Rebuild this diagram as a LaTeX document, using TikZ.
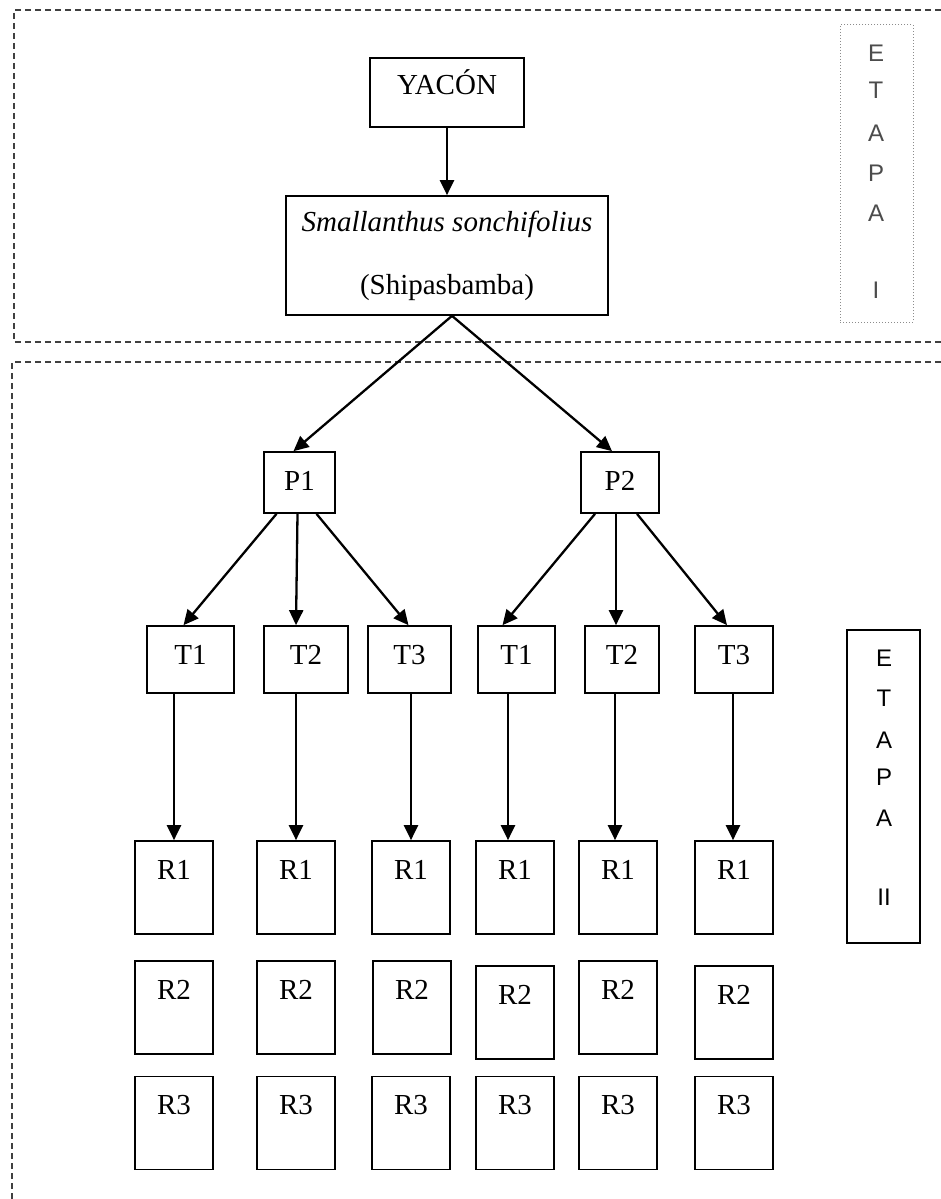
\documentclass[tikz,border=0pt]{standalone}
\usepackage{fontspec}
\setmainfont{Liberation Serif}
\newfontfamily\etapafont{Liberation Sans}
\usetikzlibrary{arrows.meta,calc}
\begin{document}
\begin{tikzpicture}[x=1pt,y=-1pt,
  box/.style={draw, line width=1.7pt, inner sep=0pt, font=\fontsize{29}{34}\selectfont},
  rbox/.style={box, minimum width=78pt, text height=38pt, text depth=55pt},
  tbox/.style={box, text height=38pt, text depth=29pt},
  pbox/.style={box, text height=38pt, text depth=23pt},
  arr/.style={line width=2.3pt, -{Triangle[length=15pt,width=14pt]}},
  region/.style={line width=1.2pt, draw=black!75, dash pattern=on 6pt off 4pt},
  etapabox/.style={draw, inner sep=0pt, minimum width=73pt},
  letter/.style={font=\etapafont\fontsize{24}{28}\selectfont, inner sep=0pt}]
\useasboundingbox (0,0) rectangle (941,1199);
\fill[white] (0,0) rectangle (941,1199);

% regions
\draw[region] (941,10) -- (14,10) -- (14,342) -- (941,342);
\draw[region] (941,362) -- (12,362) -- (12,1199);

% ETAPA I
\node[etapabox, draw=black!45, dotted, line width=1pt, minimum height=297pt] (etapaI) at (876.5,173.5) {};
\foreach \l/\y [count=\i] in {E/53,T/90,A/133,P/173,A/213,I/290}
  \node[letter, text=black!70] (eI\i) at (876,\y) {\l};

% ETAPA II
\node[etapabox, line width=1.2pt, minimum height=313pt] (etapaII) at (883.5,786.5) {};
\foreach \l/\y [count=\i] in {E/658,T/698,A/740,P/777,A/818,II/897}
  \node[letter] (eII\i) at (884,\y) {\l};

% top
\node[box, minimum width=154pt, text height=36pt, text depth=33pt] (yacon) at (447,92.5) {YACÓN};
\node[box, minimum width=322pt, minimum height=119pt, align=center] (sp) at (447,255.5)
  {\textit{Smallanthus sonchifolius}\\[29pt](Shipasbamba)};
\draw[arr] (yacon.south) -- (sp.north);

% P
\node[pbox, minimum width=71pt] (P1) at (299.5,482.5) {P1};
\node[pbox, minimum width=78pt] (P2) at (620,482.5) {P2};
\draw[arr] ([xshift=5pt]sp.south) -- ([xshift=-6pt]P1.north);
\draw[arr] ([xshift=5pt]sp.south) -- ([xshift=-8pt]P2.north);

% T
\node[tbox, minimum width=87pt] (T1a) at (190.5,659.5) {T1};
\node[tbox, minimum width=84pt] (T2a) at (306,659.5) {T2};
\node[tbox, minimum width=83pt] (T3a) at (409.5,659.5) {T3};
\node[tbox, minimum width=77pt] (T1b) at (516.5,659.5) {T1};
\node[tbox, minimum width=74pt] (T2b) at (622,659.5) {T2};
\node[tbox, minimum width=78pt] (T3b) at (734,659.5) {T3};

\draw[arr] ([xshift=-23pt]P1.south) -- ([xshift=-7pt]T1a.north);
\draw[arr] ([xshift=-2pt]P1.south) -- ([xshift=-10pt]T2a.north);
\draw[arr] ([xshift=17pt]P1.south) -- ([xshift=-1pt]T3a.north);
\draw[arr] ([xshift=-25pt]P2.south) -- ([xshift=-14pt]T1b.north);
\draw[arr] ([xshift=-4pt]P2.south) -- ([xshift=-6pt]T2b.north);
\draw[arr] ([xshift=17pt]P2.south) -- ([xshift=-7pt]T3b.north);

% R
\foreach \x/\c in {174/1,296/2,411/3,515/4,618/5,734/6} {
  \node[rbox] (R1c\c) at (\x,887.5) {R1};
  \node[rbox] (R3c\c) at (\x,1123) {R3};
}
\node[rbox] (R2c1) at (174,1007.5) {R2};
\node[rbox] (R2c2) at (296,1007.5) {R2};
\node[rbox] (R2c3) at (412,1007.5) {R2};
\node[rbox] (R2c4) at (515,1012.5) {R2};
\node[rbox] (R2c5) at (618,1007.5) {R2};
\node[rbox] (R2c6) at (734,1012.5) {R2};

\draw[arr] (T1a.south -| R1c1.north) -- (R1c1.north);
\draw[arr] (T2a.south -| R1c2.north) -- (R1c2.north);
\draw[arr] (T3a.south -| R1c3.north) -- (R1c3.north);
\draw[arr] ([xshift=-7pt]T1b.south -| R1c4.north) -- ([xshift=-7pt]R1c4.north);
\draw[arr] ([xshift=-3pt]T2b.south -| R1c5.north) -- ([xshift=-3pt]R1c5.north);
\draw[arr] ([xshift=-1pt]T3b.south -| R1c6.north) -- ([xshift=-1pt]R1c6.north);
\end{tikzpicture}
\end{document}
